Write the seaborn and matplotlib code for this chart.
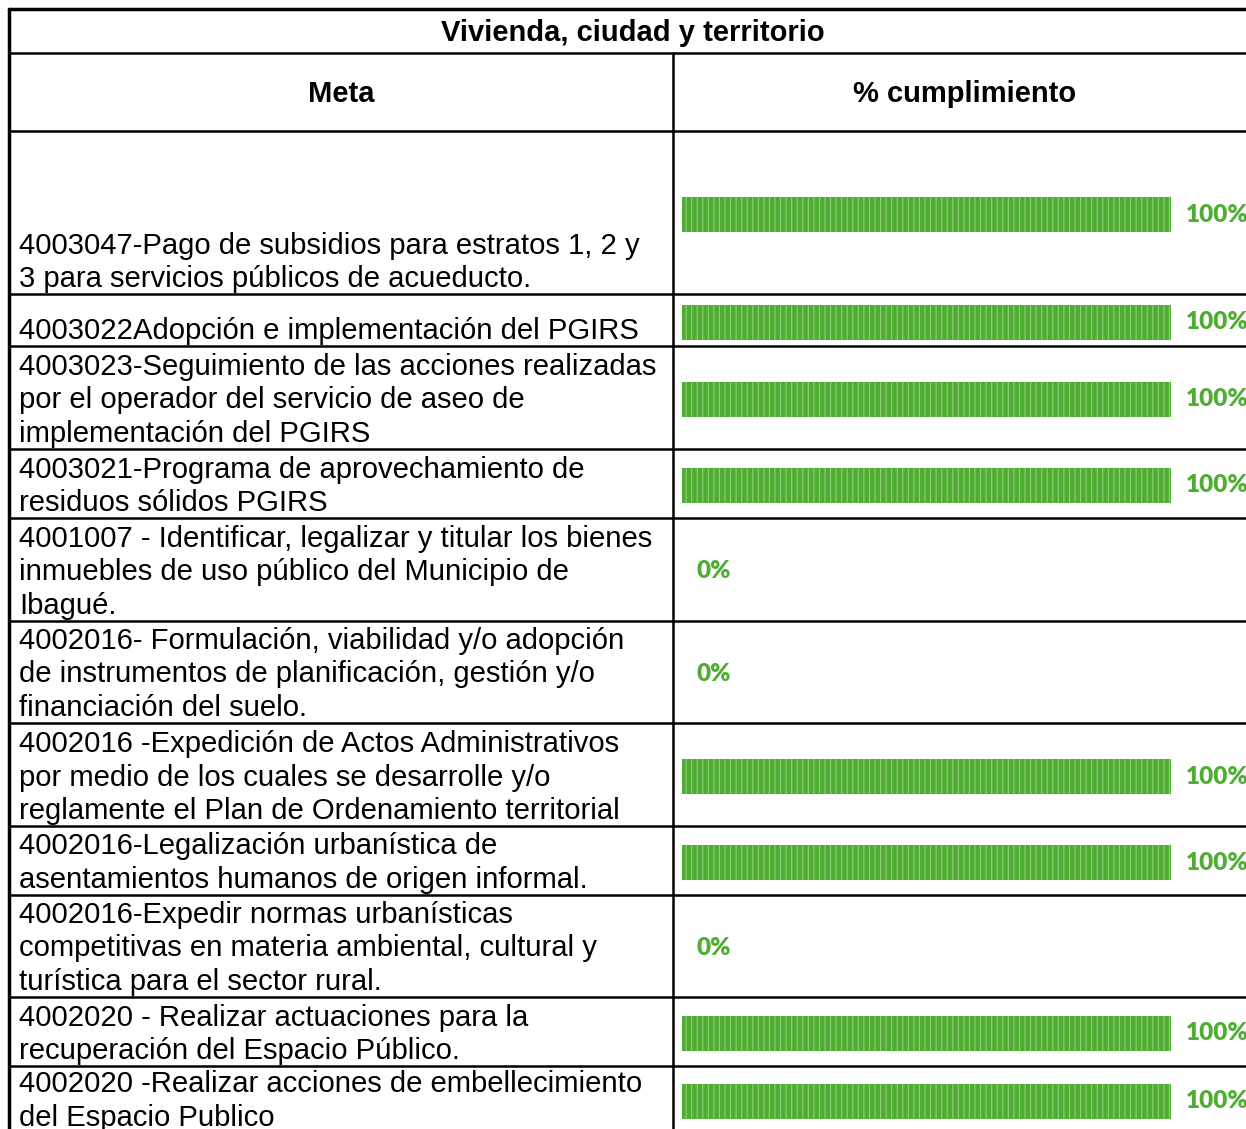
import matplotlib.pyplot as plt
import seaborn as sns

# Datos
titulo = 'Vivienda, ciudad y territorio'
col_meta = 'Meta'
col_pct = '% cumplimiento'
metas = [
    '4003047-Pago de subsidios para estratos 1, 2 y\n3 para servicios públicos de acueducto.',
    '4003022Adopción e implementación del PGIRS',
    '4003023-Seguimiento de las acciones realizadas\npor el operador del servicio de aseo de\nimplementación del PGIRS',
    '4003021-Programa de aprovechamiento de\nresiduos sólidos PGIRS',
    '4001007 - Identificar, legalizar y titular los bienes\ninmuebles de uso público del Municipio de\nIbagué.',
    '4002016- Formulación, viabilidad y/o adopción\nde instrumentos de planificación, gestión y/o\nfinanciación del suelo.',
    '4002016 -Expedición de Actos Administrativos\npor medio de los cuales se desarrolle y/o\nreglamente el Plan de Ordenamiento territorial',
    '4002016-Legalización urbanística de\nasentamientos humanos de origen informal.',
    '4002016-Expedir normas urbanísticas\ncompetitivas en materia ambiental, cultural y\nturística para el sector rural.',
    '4002020 - Realizar actuaciones para la\nrecuperación del Espacio Público.',
    '4002020 -Realizar acciones de embellecimiento\ndel Espacio Publico',
]
cumplimiento = [100, 100, 100, 100, 0, 0, 100, 100, 0, 100, 100]

# Layout en pixeles
W, H = 1246, 1129
x_left, x_mid, x_right = 9, 673, 1257
y_top, y_head, y_body = 9, 53, 131
row_bottoms = [294, 346, 449, 518, 621, 723, 826, 895, 997, 1066, 1133]
bar_x0, bar_x1, bar_h = 682, 1171, 35
verde = '#50ad33'

sns.set_style('white')
plt.rcParams['font.family'] = ['Liberation Sans', 'DejaVu Sans']
plt.rcParams['text.color'] = 'black'
plt.rcParams['hatch.linewidth'] = 0.8

fig = plt.figure(figsize=(W / 100, H / 100), dpi=100)
ax = fig.add_axes([0, 0, 1, 1])
ax.set_xlim(0, W)
ax.set_ylim(H, 0)
ax.axis('off')

# Lineas de la tabla
ax.plot([x_left, x_left], [y_top, H + 20], color='black', lw=2.5)
ax.plot([x_left, x_right], [y_top, y_top], color='black', lw=2.5)
ax.plot([x_left, x_right], [y_head, y_head], color='black', lw=1.8)
ax.plot([x_left, x_right], [y_body, y_body], color='black', lw=1.8)
ax.plot([x_mid, x_mid], [y_head, H + 20], color='black', lw=1.8)
for yb in row_bottoms[:-1]:
    ax.plot([x_left, x_right], [yb, yb], color='black', lw=1.8)

# Encabezados
ax.text((x_left + x_right) / 2, (y_top + y_head) / 2 + 2, titulo, ha='center', va='center',
        fontsize=21, fontweight='bold')
ax.text((x_left + x_mid) / 2, (y_head + y_body) / 2 + 2, col_meta, ha='center', va='center',
        fontsize=21, fontweight='bold')
ax.text((x_mid + x_right) / 2, (y_head + y_body) / 2 + 2, col_pct, ha='center', va='center',
        fontsize=21, fontweight='bold')

tops = [y_body] + row_bottoms[:-1]
for meta, pct, top, bottom in zip(metas, cumplimiento, tops, row_bottoms):
    ax.text(19, bottom - 1, meta, ha='left', va='bottom', fontsize=21.1, linespacing=1.25)

    yc = (top + bottom) / 2 + 2
    bax = fig.add_axes([bar_x0 / W, 1 - (yc + bar_h / 2) / H, (bar_x1 - bar_x0) / W, bar_h / H])
    sns.barplot(x=[pct], y=[meta], orient='h', width=1, color=verde, saturation=1, ax=bax)
    for p in bax.patches:
        p.set_hatch('|||')
        p.set_edgecolor('#8fcf78')
        p.set_linewidth(0)
    bax.set_xlim(0, 100)
    bax.set_ylim(0.5, -0.5)
    bax.axis('off')
    bax.annotate(f'{pct}%', xy=(pct, 0), xytext=(10.5, 0), textcoords='offset points',
                 ha='left', va='center', fontsize=17.5, fontweight='heavy', color=verde,
                 family=['Lato', 'DejaVu Sans'], annotation_clip=False)

fig.savefig('out.png', dpi=100)
